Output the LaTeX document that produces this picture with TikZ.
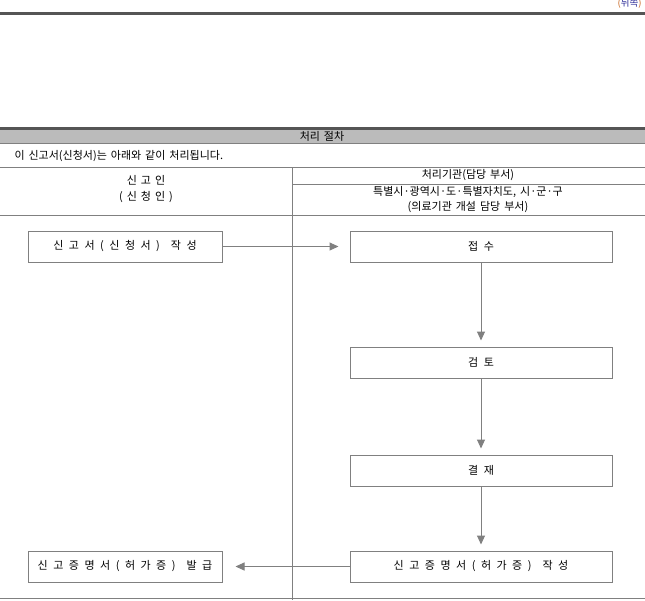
\documentclass[tikz,border=0pt]{standalone}
\usepackage{fontspec}
\setmainfont{Noto Sans CJK KR}
\usepackage{xcolor}
\usetikzlibrary{arrows.meta}
\definecolor{lineGray}{RGB}{128,128,128}
\definecolor{barGray}{RGB}{187,187,187}
\definecolor{darkGray}{RGB}{85,85,85}
\definecolor{noteBlue}{RGB}{40,40,150}
\definecolor{noteOrange}{RGB}{200,100,30}
\newcommand{\boxfont}{\fontsize{11}{13}\selectfont\spaceskip=5.5pt\relax}
\newcommand{\headfont}{\fontsize{11}{13}\selectfont\spaceskip=4pt\relax}

\begin{document}
\begin{tikzpicture}[x=1pt,y=-1pt,>={Triangle[length=9pt,width=8pt]},line width=1pt,
    font=\fontsize{11}{13}\selectfont]
  \tikzstyle{box}=[draw=lineGray,minimum width=194pt,minimum height=31pt,inner sep=0pt,
    font=\boxfont]
  \tikzstyle{wide}=[box,minimum width=262pt]
  \tikzstyle{head}=[inner sep=0pt,font=\headfont]
  \tikzstyle{flow}=[->,draw=lineGray,fill=lineGray]

  \useasboundingbox[fill=white] (0,0) rectangle (645,600);

  % top of the page
  \fill[darkGray] (0,12) rectangle (645,15);
  \node[inner sep=0pt,anchor=east,font=\fontsize{9.5}{10}\selectfont] (side) at (642,4)
    {\textcolor{noteOrange}{(}\textcolor{noteBlue}{뒤쪽}\textcolor{noteOrange}{)}};

  % title bar
  \fill[darkGray] (0,127) rectangle (645,130);
  \fill[barGray] (0,130) rectangle (645,142.5);
  \node[head] (title) at (322,136) {처리 절차};
  \node[head,anchor=west] (intro) at (14,156) {이 신고서(신청서)는 아래와 같이 처리됩니다.};

  % table
  \draw[lineGray] (0,143) -- (645,143);
  \draw[lineGray] (0,167) -- (645,167);
  \draw[lineGray] (292,184) -- (645,184);
  \draw[lineGray] (0,215) -- (645,215);
  \draw[lineGray] (0,598) -- (645,598);
  \draw[lineGray] (292,167) -- (292,600);

  \node[head] (who1)  at (146,180) {신 고 인};
  \node[head] (who2)  at (146,197) {( 신 청 인 )};
  \node[head] (org1)  at (468,175) {처리기관(담당 부서)};
  \node[head] (org2)  at (468,191.5) {특별시·광역시·도·특별자치도, 시·군·구};
  \node[head] (org3)  at (468,207) {(의료기관 개설 담당 부서)};

  % steps
  \node[box]  (write)   at (125,246.5) {신 고 서 ( 신 청 서 )~ 작 성};
  \node[wide] (receive) at (481,246.5) {접 수};
  \node[wide] (review)  at (481,362.5) {검 토};
  \node[wide] (approve) at (481,470.5) {결 재};
  \node[wide] (cert)    at (481,566.5) {신 고 증 명 서 ( 허 가 증 )~ 작 성};
  \node[box]  (issue)   at (125,566.5) {신 고 증 명 서 ( 허 가 증 )~ 발 급};

  \draw[flow,shorten >=11pt] (write) -- (receive);
  \draw[flow,shorten >=6pt]  (receive) -- (review);
  \draw[flow,shorten >=6pt]  (review) -- (approve);
  \draw[flow,shorten >=6pt]  (approve) -- (cert);
  \draw[flow,shorten >=13pt] (cert) -- (issue);
\end{tikzpicture}
\end{document}
